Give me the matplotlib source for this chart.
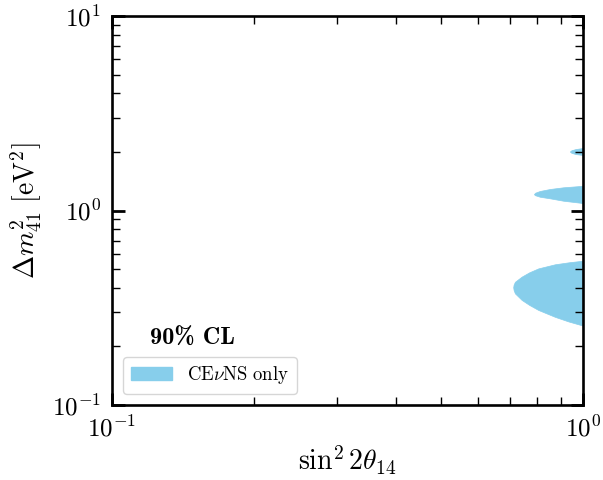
import numpy as np
import matplotlib.pyplot as plt
from matplotlib.patches import Patch
from matplotlib.ticker import NullFormatter

plt.rcParams['mathtext.fontset'] = 'cm'
plt.rcParams['font.family'] = ['cmr10', 'DejaVu Serif']
plt.rcParams['axes.formatter.use_mathtext'] = True

# allowed regions (left edge in sin^2 2theta, right edge is the plot border at 1)
blob_hi_dm2 = [1.93, 1.95, 1.98, 2.01, 2.04, 2.07, 2.096]
blob_hi_sin2 = [1.0, 0.965, 0.945, 0.938, 0.945, 0.965, 1.0]

blob_mid_dm2 = [1.090, 1.097, 1.123, 1.155, 1.177, 1.200, 1.216,
                1.235, 1.260, 1.290, 1.316, 1.336, 1.342]
blob_mid_sin2 = [1.0, 0.985, 0.908, 0.851, 0.810, 0.790, 0.787,
                 0.792, 0.810, 0.851, 0.908, 0.985, 1.0]

blob_lo_dm2 = [0.256, 0.269, 0.284, 0.308, 0.327, 0.347, 0.375, 0.390,
               0.403, 0.416, 0.430, 0.457, 0.481, 0.504, 0.529, 0.542, 0.552]
blob_lo_sin2 = [1.0, 0.931, 0.872, 0.804, 0.769, 0.741, 0.717, 0.7125,
                0.711, 0.7125, 0.717, 0.741, 0.769, 0.804, 0.872, 0.935, 1.0]

xticks = [0.1, 1.0]
xticklabels = [r'$10^{-1}$', r'$10^{0}$']
yticks = [0.1, 1.0, 10.0]
yticklabels = [r'$10^{-1}$', r'$10^{0}$', r'$10^{1}$']

color = '#87CEEB'

fig = plt.figure(figsize=(6.03, 4.8), dpi=100)
ax = fig.add_axes([0.1857, 0.15625, 0.7811, 0.8104])

for dm2, s2 in [(blob_hi_dm2, blob_hi_sin2),
                (blob_mid_dm2, blob_mid_sin2),
                (blob_lo_dm2, blob_lo_sin2)]:
    ax.fill_betweenx(dm2, s2, 1.0, color=color, lw=0.5, edgecolor=color)

ax.set_xscale('log')
ax.set_yscale('log')
ax.set_xlim(0.1, 1.0)
ax.set_ylim(0.1, 10.0)
ax.set_xticks(xticks, xticklabels)
ax.set_yticks(yticks, yticklabels)
ax.xaxis.set_minor_formatter(NullFormatter())
ax.yaxis.set_minor_formatter(NullFormatter())

ax.tick_params(which='both', direction='in', top=True, right=True)
ax.tick_params(which='major', length=9, width=2, labelsize=18, pad=8)
ax.tick_params(which='minor', length=6, width=1)
for sp in ax.spines.values():
    sp.set_linewidth(1.9)

ax.set_xlabel(r'$\sin^2 2\theta_{14}$', fontsize=20, labelpad=1)
ax.set_ylabel(r'$\Delta m^2_{41}\ [\mathrm{eV}^2]$', fontsize=20, labelpad=6)

ax.text(0.08, 0.17, '90% CL', transform=ax.transAxes,
        fontsize=17.5, va='center', ha='left', family=['cmb10', 'DejaVu Serif'])
ax.legend(handles=[Patch(color=color, label=r'$\mathrm{CE}\nu\mathrm{NS\ only}$')],
          loc='lower left', fontsize=13.5, frameon=True, fancybox=True,
          edgecolor='#cccccc', handlelength=2.2, borderaxespad=0.6)

fig.savefig('out.png', dpi=100)
